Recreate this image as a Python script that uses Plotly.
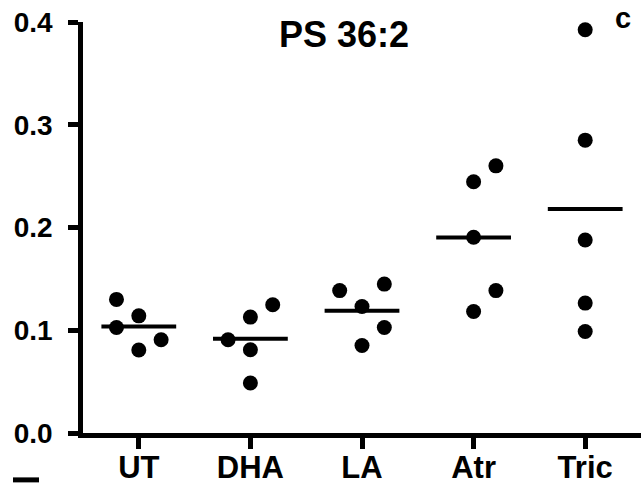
import numpy as np
import plotly.graph_objects as go

categories = ["UT", "DHA", "LA", "Atr", "Tric"]
ut = [0.130, 0.1027, 0.114, 0.0808, 0.0908]
dha = [0.0908, 0.1128, 0.081, 0.0487, 0.1248]
la = [0.1386, 0.1231, 0.1449, 0.1027, 0.0852]
atr = [0.2445, 0.260, 0.1905, 0.1386, 0.1183]
tric = [0.3924, 0.285, 0.1879, 0.1264, 0.0988]
# horizontal scatter offsets of each point within its group (category units)
ut_off = [-0.2, -0.2, 0.0, 0.0, 0.2]
dha_off = [-0.2, 0.0, 0.0, 0.0, 0.2]
la_off = [-0.2, 0.0, 0.2, 0.2, 0.0]
atr_off = [0.0, 0.2, 0.0, 0.2, 0.0]
tric_off = [0.0, 0.0, 0.0, 0.0, 0.0]
y_ticks = [0.0, 0.1, 0.2, 0.3, 0.4]
y_ticktext = ["0.0", "0.1", "0.2", "0.3", "0.4"]
title_text = "PS 36:2"
corner_text = "c"

groups = [ut, dha, la, atr, tric]
offsets = [ut_off, dha_off, la_off, atr_off, tric_off]

FONT = "Liberation Sans, Arial, sans-serif"
fig = go.Figure()
for i, (vals, offs) in enumerate(zip(groups, offsets)):
    fig.add_trace(go.Scatter(
        x=[i + o for o in offs], y=vals, mode="markers",
        marker=dict(color="black", size=15, line=dict(width=0)),
        showlegend=False, hoverinfo="y"))
    m = float(np.mean(vals))
    fig.add_trace(go.Scatter(
        x=[i - 0.335, i + 0.335], y=[m, m], mode="lines",
        line=dict(color="black", width=4), showlegend=False, hoverinfo="skip"))

W, H = 641, 485
L, R, T, B = 83, 0, 21.5, 51.5
pw, ph = W - L - R, H - T - B

fig.add_annotation(text=title_text, x=(344 - L) / pw, y=(H - B - 34.5) / ph,
                   xref="paper", yref="paper", showarrow=False,
                   xanchor="center", yanchor="middle",
                   font=dict(family=FONT, size=36, color="black", weight="bold"))
fig.add_annotation(text=corner_text, x=(622.5 - L) / pw, y=(H - B - 17) / ph,
                   xref="paper", yref="paper", showarrow=False,
                   xanchor="center", yanchor="middle",
                   font=dict(family=FONT, size=29, color="black", weight="bold"))
fig.add_shape(type="rect", xref="paper", yref="paper",
              x0=(13 - L) / pw, x1=(39 - L) / pw,
              y0=(H - B - 483) / ph, y1=(H - B - 478) / ph,
              fillcolor="black", line=dict(width=0))

fig.update_layout(
    template="none",
    width=W, height=H, margin=dict(l=L, r=R, t=T, b=B, pad=0),
    paper_bgcolor="white", plot_bgcolor="white",
    xaxis=dict(range=[-0.5, 4.5], tickvals=list(range(len(categories))),
               ticktext=categories, showgrid=False, zeroline=False,
               automargin=False,
               showline=True, linecolor="black", linewidth=4.5,
               ticks="outside", ticklen=11, tickwidth=4.5, tickcolor="black",
               tickfont=dict(family=FONT, size=31, color="black", weight="bold"),
               ticklabelstandoff=-8, fixedrange=True),
    yaxis=dict(range=[0, 0.4], tickvals=y_ticks, ticktext=y_ticktext,
               showgrid=False, zeroline=False, automargin=False,
               showline=True, linecolor="black", linewidth=4.5,
               ticks="outside", ticklen=10, tickwidth=4.5, tickcolor="black",
               tickfont=dict(family=FONT, size=28, color="black", weight="bold"),
               ticklabelstandoff=10, fixedrange=True),
)
fig.write_html("out.html")
